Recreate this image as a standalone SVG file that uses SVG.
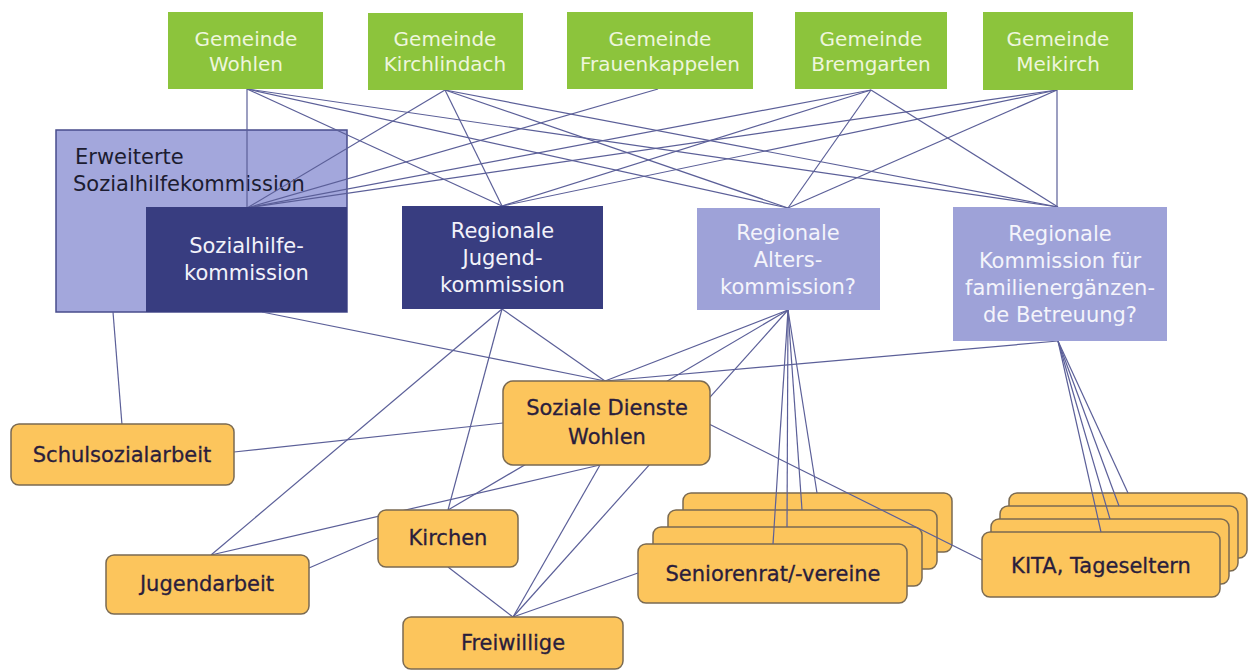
<svg xmlns="http://www.w3.org/2000/svg" width="1251" height="671" viewBox="0 0 1251 671">
<style>
text{font-family:"DejaVu Sans","Liberation Sans",sans-serif;text-anchor:middle}
.g rect{fill:#8cc43c}
.g text{fill:#eef6dc;font-size:20px}
.dk rect{fill:#383d80}
.dk text{fill:#f2f2fa;font-size:21px}
.lt rect{fill:#9ea2d8}
.lt text{fill:#f4f4fb;font-size:21px}
.o rect{fill:#fcc55c;stroke:#7a6a52;stroke-width:1.5}
.o text{fill:#2a1d3c;font-size:21px;stroke:#2a1d3c;stroke-width:0.3}
#conn line{stroke:#5b5f98;stroke-width:1.2}
</style>
<g id="erweiterte">
<rect x="56" y="130" width="291" height="182" fill="#a3a7dc" stroke="#484c8c" stroke-width="1.5"/>
<text x="75" y="164" style="text-anchor:start;font-size:21px;fill:#1c1c30">Erweiterte</text>
<text x="73" y="191" style="text-anchor:start;font-size:21px;fill:#1c1c30">Sozialhilfekommission</text>
</g>
<g id="senioren" class="o">
<rect x="683" y="493" width="269" height="59" rx="8"/>
<rect x="668" y="510" width="269" height="59" rx="8"/>
<rect x="653" y="527" width="269" height="59" rx="8"/>
<rect x="638" y="544" width="269" height="59" rx="8"/>
<text x="773" y="581">Seniorenrat/-vereine</text>
</g>
<g id="kita" class="o">
<rect x="1009" y="493" width="238" height="65" rx="8"/>
<rect x="1000" y="506" width="238" height="65" rx="8"/>
<rect x="991" y="519" width="238" height="65" rx="8"/>
<rect x="982" y="532" width="238" height="65" rx="8"/>
<text x="1101" y="573">KITA, Tageseltern</text>
</g>
<g id="conn">
<line x1="247" y1="89" x2="247" y2="208"/>
<line x1="247" y1="89" x2="502" y2="206"/>
<line x1="247" y1="89" x2="788" y2="208"/>
<line x1="247" y1="89" x2="1058" y2="207"/>
<line x1="445" y1="90" x2="247" y2="208"/>
<line x1="445" y1="90" x2="502" y2="206"/>
<line x1="445" y1="90" x2="788" y2="208"/>
<line x1="445" y1="90" x2="1058" y2="207"/>
<line x1="658" y1="89" x2="247" y2="208"/>
<line x1="871" y1="90" x2="247" y2="208"/>
<line x1="871" y1="90" x2="502" y2="206"/>
<line x1="871" y1="90" x2="788" y2="208"/>
<line x1="871" y1="90" x2="1058" y2="207"/>
<line x1="1057" y1="90" x2="247" y2="208"/>
<line x1="1057" y1="90" x2="502" y2="206"/>
<line x1="1057" y1="90" x2="788" y2="208"/>
<line x1="1057" y1="90" x2="1057" y2="207"/>
<line x1="113" y1="312" x2="122" y2="425"/>
<line x1="262" y1="312" x2="605" y2="381"/>
<line x1="502" y1="309" x2="605" y2="381"/>
<line x1="502" y1="309" x2="211" y2="555"/>
<line x1="502" y1="309" x2="448" y2="510"/>
<line x1="788" y1="310" x2="605" y2="381"/>
<line x1="788" y1="310" x2="448" y2="510"/>
<line x1="788" y1="310" x2="513" y2="617"/>
<line x1="788" y1="310" x2="773" y2="544"/>
<line x1="788" y1="310" x2="787" y2="527"/>
<line x1="788" y1="310" x2="802" y2="510"/>
<line x1="788" y1="310" x2="817" y2="493"/>
<line x1="1058" y1="341" x2="605" y2="381"/>
<line x1="1058" y1="341" x2="1101" y2="532"/>
<line x1="1058" y1="341" x2="1110" y2="519"/>
<line x1="1058" y1="341" x2="1119" y2="506"/>
<line x1="1058" y1="341" x2="1128" y2="493"/>
<line x1="503" y1="423" x2="234" y2="452"/>
<line x1="600" y1="465" x2="211" y2="555"/>
<line x1="309" y1="568" x2="378" y2="538"/>
<line x1="448" y1="567" x2="513" y2="617"/>
<line x1="600" y1="465" x2="513" y2="617"/>
<line x1="513" y1="617" x2="638" y2="573"/>
<line x1="707" y1="423" x2="982" y2="560"/>
</g>
<g id="gem-wohlen" class="g"><rect x="168" y="12" width="155" height="77"/><text x="246" y="46">Gemeinde</text><text x="246" y="71">Wohlen</text></g>
<g id="gem-kirchlindach" class="g"><rect x="368" y="13" width="155" height="77"/><text x="445" y="46">Gemeinde</text><text x="445" y="71">Kirchlindach</text></g>
<g id="gem-frauenkappelen" class="g"><rect x="567" y="12" width="186" height="77"/><text x="660" y="46">Gemeinde</text><text x="660" y="71">Frauenkappelen</text></g>
<g id="gem-bremgarten" class="g"><rect x="795" y="12" width="152" height="77"/><text x="871" y="46">Gemeinde</text><text x="871" y="71">Bremgarten</text></g>
<g id="gem-meikirch" class="g"><rect x="983" y="12" width="150" height="78"/><text x="1058" y="46">Gemeinde</text><text x="1058" y="71">Meikirch</text></g>
<g id="sozialhilfe" class="dk"><rect x="146" y="207" width="201" height="105"/><text x="246.5" y="253">Sozialhilfe-</text><text x="246.5" y="280">kommission</text></g>
<g id="jugend" class="dk"><rect x="402" y="206" width="201" height="103"/><text x="502.5" y="238">Regionale</text><text x="502.5" y="265">Jugend-</text><text x="502.5" y="292">kommission</text></g>
<g id="alters" class="lt"><rect x="697" y="208" width="183" height="102"/><text x="788" y="240">Regionale</text><text x="788" y="267">Alters-</text><text x="788" y="294">kommission?</text></g>
<g id="familien" class="lt"><rect x="953" y="207" width="214" height="134"/><text x="1060" y="241">Regionale</text><text x="1060" y="268">Kommission für</text><text x="1060" y="295">familienergänzen-</text><text x="1060" y="322">de Betreuung?</text></g>
<g id="soziale-dienste" class="o"><rect x="503" y="381" width="207" height="84" rx="10"/><text x="607" y="415">Soziale Dienste</text><text x="607" y="444">Wohlen</text></g>
<g id="schulsozialarbeit" class="o"><rect x="11" y="424" width="223" height="61" rx="8"/><text x="122" y="462">Schulsozialarbeit</text></g>
<g id="jugendarbeit" class="o"><rect x="106" y="555" width="203" height="59" rx="8"/><text x="207" y="591">Jugendarbeit</text></g>
<g id="kirchen" class="o"><rect x="378" y="510" width="140" height="57" rx="8"/><text x="448" y="545">Kirchen</text></g>
<g id="freiwillige" class="o"><rect x="403" y="617" width="220" height="52" rx="8"/><text x="513" y="650">Freiwillige</text></g>
</svg>
